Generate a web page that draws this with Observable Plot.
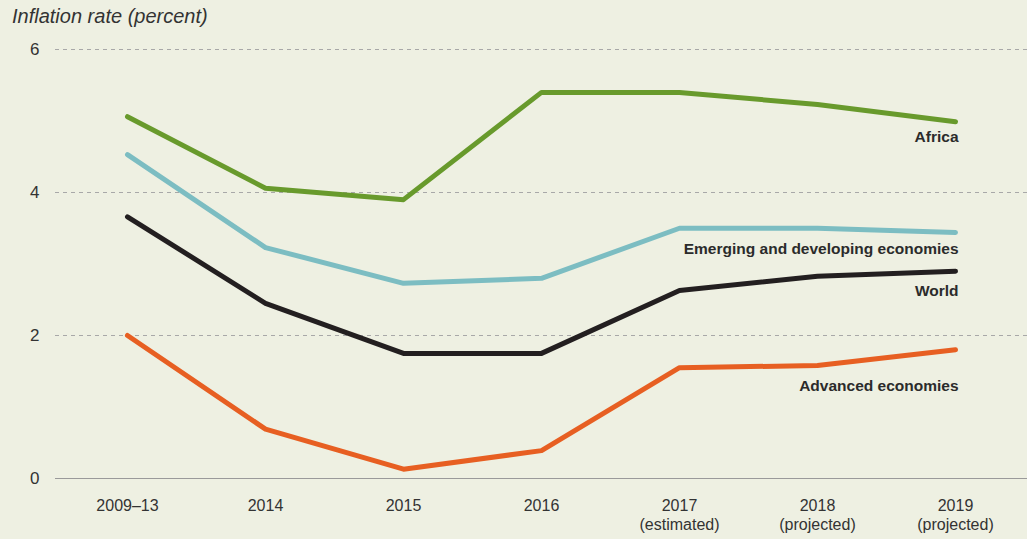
<!DOCTYPE html>
<html>
<head>
<meta charset="utf-8">
<script src="https://cdn.jsdelivr.net/npm/d3@7"></script>
<script src="https://cdn.jsdelivr.net/npm/@observablehq/plot@0.6"></script>
<style>
  html, body { margin: 0; padding: 0; background: #eef0e2; }
  #title { height: 38px; box-sizing: border-box; padding: 3px 0 0 12px; font-family: "Liberation Sans", Arial, sans-serif; font-style: italic; font-size: 20px; line-height: 26px; color: #333; }
  #chart svg { display: block; }
</style>
</head>
<body>
<div id="title">Inflation rate (percent)</div>
<div id="chart"></div>
<script>
const categories = ["2009–13", "2014", "2015", "2016", "2017", "2018", "2019"];
const tickLabels = ["2009–13", "2014", "2015", "2016", "2017\n(estimated)", "2018\n(projected)", "2019\n(projected)"];
const seriesNames = ["Africa", "Emerging and developing economies", "World", "Advanced economies"];
const africa   = [5.06, 4.06, 3.90, 5.40, 5.40, 5.23, 4.99];
const emerging = [4.53, 3.23, 2.73, 2.80, 3.50, 3.50, 3.44];
const world    = [3.66, 2.45, 1.75, 1.75, 2.63, 2.83, 2.90];
const advanced = [2.00, 0.69, 0.13, 0.39, 1.55, 1.58, 1.80];
const yTicks = [0, 2, 4, 6];

const seriesValues = [africa, emerging, world, advanced];
const colors = ["#689a2c", "#7cbdc2", "#231f20", "#e75f22"];
const labelDy = [15, 16, 20, 36];

const data = seriesNames.flatMap((s, i) => categories.map((c, j) => ({series: s, cat: c, value: seriesValues[i][j]})));
const lastPoints = seriesNames.map((s, i) => ({series: s, cat: categories[categories.length - 1], value: seriesValues[i][categories.length - 1], dy: labelDy[i]}));

const plot = Plot.plot({
  width: 1027,
  height: 501,
  marginLeft: 55,
  marginRight: 0,
  marginTop: 11,
  marginBottom: 61,
  style: {background: "transparent", fontFamily: "'Liberation Sans', Arial, sans-serif", fontSize: "16px", color: "#333"},
  x: {type: "point", domain: categories, padding: 0.5, label: null},
  y: {domain: [0, 6], label: null},
  color: {domain: seriesNames, range: colors},
  marks: [
    Plot.ruleY(yTicks.filter(d => d > 0), {stroke: "#a8a8a8", strokeDasharray: "4,4", strokeWidth: 1.2}),
    Plot.ruleY([0], {stroke: "#9a9a9a", strokeWidth: 1.2}),
    Plot.axisY({ticks: yTicks, tickFormat: d3.format("d"), tickSize: 0, tickPadding: 16, label: null, fontSize: 17}),
    Plot.axisX({tickSize: 0, tickPadding: 19, label: null, tickFormat: (d) => tickLabels[categories.indexOf(d)], fontSize: 16, lineHeight: 1.2}),
    Plot.line(data, {x: "cat", y: "value", z: "series", stroke: "series", strokeWidth: 5, strokeLinecap: "round", strokeLinejoin: "round"}),
    ...lastPoints.map(p => Plot.text([p], {x: "cat", y: "value", text: "series", textAnchor: "end", dx: 3, dy: p.dy, fontSize: 15.5, fontWeight: 600, fill: "#2b2b2b"}))
  ]
});
document.getElementById("chart").appendChild(plot);
</script>
</body>
</html>
